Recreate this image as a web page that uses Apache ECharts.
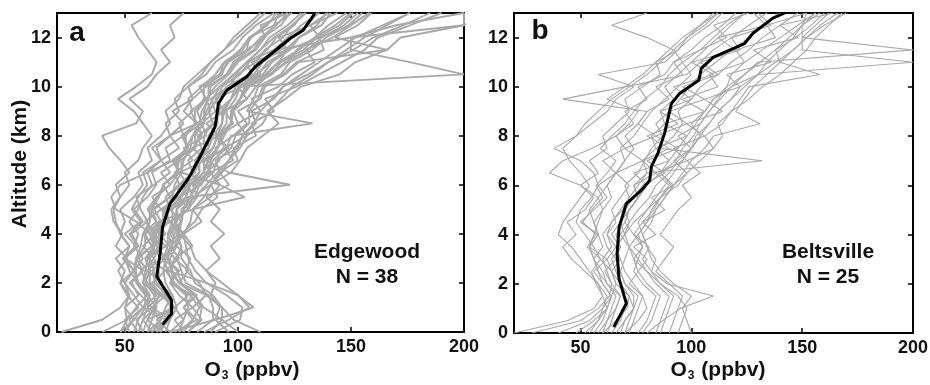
<!DOCTYPE html>
<html>
<head>
<meta charset="utf-8">
<script src="https://cdn.jsdelivr.net/npm/echarts@6/dist/echarts.min.js"></script>
<style>
  html, body { margin: 0; padding: 0; background: #ffffff; }
  #chart { width: 930px; height: 385px; }
</style>
</head>
<body>
<div id="chart"></div>
<script>
// Altitude levels (km) shared by every individual ozonesonde profile
const ALTITUDE_KM = [0, 0.5, 1, 1.5, 2, 2.5, 3, 3.5, 4, 4.5, 5, 5.5, 6, 6.5, 7, 7.5, 8, 8.5, 9, 9.5, 10, 10.5, 11, 11.5, 12, 12.5, 13];

// Edgewood: individual O3 profiles (ppbv), one row per sounding
const EDGEWOOD_O3 = [
  [22,40,48,52,50,47,51,46,49,45,44,48,46,52,48,43,40,55,58,52,60,64,70,66,72,70,76],
  [110,98,93,86,83,77,79,73,75,81,84,91,88,97,101,104,111,118,113,121,128,145,152,166,172,200,210],
  [58,55,62,57,52,58,50,56,53,60,57,55,63,70,66,74,70,82,76,80,86,92,96,104,112,110,122],
  [78,84,80,86,74,78,72,80,76,84,80,88,92,88,98,94,104,100,110,106,118,124,134,130,142,150,158],
  [52,50,56,51,48,54,49,55,50,57,53,56,60,58,66,62,70,76,71,80,78,86,90,98,102,108,116],
  [72,82,76,80,70,74,66,73,70,75,70,80,78,88,84,96,90,98,94,104,100,112,118,122,136,132,144],
  [66,60,72,66,62,68,60,68,63,70,66,74,78,74,86,80,92,86,94,90,102,110,106,122,118,132,140],
  [96,90,92,88,90,86,92,88,94,88,92,86,96,92,100,98,108,106,116,112,126,136,146,156,162,176,190],
  [60,66,58,64,60,57,63,58,64,59,66,62,70,74,72,80,84,82,88,86,92,98,104,110,114,122,128],
  [76,72,80,74,70,74,68,72,76,70,78,74,84,86,92,90,98,104,100,110,112,120,126,138,136,150,158],
  [50,54,58,61,56,52,50,52,48,46,45,48,52,50,56,58,62,58,54,47,55,62,64,60,56,53,62],
  [62,68,60,66,58,60,56,62,58,64,60,64,70,66,74,78,76,84,82,86,90,96,100,108,112,116,124],
  [85,96,105,100,93,86,81,79,74,72,73,75,79,83,82,89,91,93,94,97,101,108,115,121,127,137,141],
  [70,76,72,78,72,68,74,70,76,72,78,82,80,88,86,94,92,100,98,104,108,114,122,126,134,140,148],
  [56,52,58,54,50,54,50,56,52,58,54,60,64,62,70,68,76,74,80,78,84,90,94,102,106,112,120],
  [74,80,76,82,74,70,72,68,74,70,78,80,88,92,90,100,102,108,106,116,120,128,136,144,152,164,176],
  [40,51,55,60,56,54,55,57,58,61,62,65,67,73,74,77,80,85,86,89,92,99,104,110,116,124,130],
  [90,101,102,95,86,81,78,77,76,79,80,85,88,93,96,101,104,111,114,119,124,133,140,148,156,166,176],
  [64,70,62,68,66,60,66,62,68,64,62,70,74,72,80,76,86,84,90,88,96,100,108,112,120,124,130],
  [62,66,68,71,68,67,68,71,72,75,76,79,82,87,88,91,92,97,98,101,104,113,118,127,134,143,150],
  [48,54,50,52,48,50,46,52,48,50,48,54,58,56,62,60,66,70,68,74,76,82,88,94,98,104,110],
  [78,83,84,81,74,71,70,73,74,75,76,81,86,91,96,99,102,107,110,115,120,131,140,151,160,173,185],
  [70,64,72,68,64,62,68,64,62,66,70,68,74,80,78,84,82,90,92,90,98,106,104,116,122,128,136],
  [56,58,60,61,58,59,60,63,64,67,68,71,72,75,76,79,80,83,84,87,88,95,98,105,110,117,122],
  [100,93,85,81,75,73,69,70,65,67,67,73,74,81,83,87,89,93,93,97,99,107,111,119,123,131,135],
  [64,68,70,69,63,63,61,65,63,67,68,78,123,96,86,91,94,97,97,101,105,115,121,131,137,147,153],
  [48,51,50,56,53,58,55,62,59,66,63,70,67,74,71,78,75,82,79,86,83,92,94,104,105,116,118],
  [74,76,78,77,71,71,69,71,69,73,73,79,81,87,89,95,97,133,104,107,109,119,123,133,139,149,155],
  [60,62,64,63,59,61,61,63,61,55,46,44,48,60,72,81,81,85,85,87,87,95,99,107,111,119,123],
  [82,89,89,87,77,75,73,75,71,73,73,77,79,85,87,91,93,97,97,101,103,111,115,123,127,135,139],
  [68,70,73,71,65,65,63,65,65,69,69,75,77,83,83,87,87,91,91,97,101,200,176,150,150,170,200],
  [66,68,71,67,61,61,61,63,63,67,67,73,75,81,81,85,85,89,87,91,95,105,109,117,150,200,200],
  [58,60,63,65,61,61,59,63,61,65,80,103,92,75,75,81,83,89,87,91,93,101,105,113,117,125,129],
  [76,80,83,79,71,69,67,69,69,71,71,77,79,85,85,89,91,97,97,101,105,115,119,129,135,145,151],
  [62,58,64,60,56,54,58,54,56,52,56,58,62,60,66,64,70,68,74,72,78,84,88,94,100,106,112],
  [70,90,107,100,86,69,67,71,69,73,73,77,79,85,85,89,91,95,95,99,101,109,113,123,127,137,141],
  [54,56,59,59,55,55,55,59,59,61,61,65,67,73,73,77,77,81,81,85,85,93,95,101,105,113,117],
  [88,93,93,89,81,79,75,75,73,75,75,81,83,89,91,97,99,105,105,109,111,121,127,166,143,153,159]
];

// Edgewood mean profile
const EDGEWOOD_MEAN_ALT = [0.3, 0.75, 1.29, 2.27, 3.2, 4.28, 5.23, 5.78, 6.25, 7.13, 7.95, 8.36, 9.31, 9.85, 10.4, 10.8, 11.41, 11.96, 12.3, 12.98];
const EDGEWOOD_MEAN_O3 = [66.7, 70.7, 70.7, 64.1, 65.6, 66.7, 70, 74.4, 78.1, 83.2, 87.7, 89.9, 91.4, 95.1, 103.9, 107.6, 115.7, 123.1, 128.9, 134];

// Beltsville: individual O3 profiles (ppbv)
const BELTSVILLE_O3 = [
  [20,44,56,60,57,55,59,53,57,51,55,60,57,62,66,59,64,70,74,79,86,90,96,104,110,116,124],
  [28,50,58,63,64,61,66,62,60,64,69,72,70,76,79,82,87,84,90,95,99,104,111,118,126,132,140],
  [80,87,95,110,89,82,78,81,74,78,83,86,91,86,93,96,101,104,108,113,118,124,131,138,147,154,160],
  [60,66,71,72,68,64,59,56,52,48,50,55,58,56,50,38,48,52,58,64,72,80,86,92,98,104,110],
  [70,76,80,78,74,70,68,66,70,72,76,81,84,90,94,100,104,100,106,110,118,130,200,150,150,156,162],
  [56,60,62,60,58,54,50,46,40,42,46,50,54,50,45,42,48,55,62,66,74,58,88,94,100,108,114],
  [90,92,94,96,90,84,88,92,86,90,94,100,96,104,98,110,106,114,118,126,132,140,146,152,156,162,168],
  [66,70,74,72,68,66,64,68,66,70,72,76,74,84,78,90,80,94,86,100,92,110,100,120,112,134,128],
  [52,58,62,64,60,56,62,54,58,50,56,62,58,66,60,70,66,74,70,80,76,88,92,100,106,114,120],
  [76,80,82,84,78,74,76,72,70,74,80,86,94,98,92,100,104,108,112,118,122,130,138,146,152,160,170],
  [62,64,66,68,64,62,60,64,62,66,64,68,72,66,78,70,84,76,80,90,84,96,92,104,116,110,126],
  [84,86,88,90,84,80,76,78,74,70,72,76,80,86,90,94,98,102,106,110,116,124,130,200,150,150,152],
  [40,54,60,64,66,64,62,66,70,68,72,76,74,80,78,84,82,88,86,92,88,94,100,106,112,118,124],
  [72,74,76,78,72,76,80,74,84,78,88,82,92,86,96,100,94,104,108,112,116,118,124,132,140,148,156],
  [58,62,66,68,62,60,56,54,58,56,60,64,62,66,70,68,74,78,82,88,94,100,96,92,80,64,80],
  [94,96,98,94,86,80,74,72,76,80,84,88,92,96,100,106,110,131,120,124,128,134,140,146,152,158,166],
  [64,68,70,72,66,64,68,66,62,64,68,72,76,80,132,86,92,96,94,100,104,112,118,126,132,140,148],
  [48,56,62,64,60,58,56,60,58,56,54,58,62,66,70,74,70,76,80,42,70,98,104,110,118,126,134],
  [86,88,90,92,86,82,84,80,78,82,84,88,92,98,104,110,114,112,118,122,126,158,140,138,144,150,158],
  [68,70,74,76,70,68,70,72,68,72,70,74,78,88,80,94,84,98,90,106,96,112,104,122,118,136,130],
  [60,62,64,66,62,58,56,54,56,58,60,58,50,36,42,55,66,72,76,62,70,78,84,90,96,104,112],
  [78,82,84,86,80,76,74,78,76,80,82,86,90,84,98,92,106,98,114,106,122,116,136,128,148,140,164],
  [54,58,60,62,58,52,46,42,48,44,52,56,50,58,54,62,60,66,72,70,78,86,84,94,98,106,112],
  [100,98,96,100,92,86,82,80,78,76,80,84,88,92,96,100,102,108,112,118,124,130,134,140,146,150,156],
  [70,72,74,74,70,68,66,68,64,68,72,76,80,74,90,84,98,88,106,96,112,108,124,120,138,134,152]
];

// Beltsville mean profile
const BELTSVILLE_MEAN_ALT = [0.24, 1.2, 2.2, 3.2, 4.3, 5.26, 5.8, 6.2, 6.77, 7.3, 8.1, 9.32, 9.73, 10.27, 10.75, 11.2, 11.76, 12.18, 12.79, 13];
const BELTSVILLE_MEAN_O3 = [65, 70.7, 67.4, 66.5, 67.4, 70.7, 77.5, 81.2, 82, 84.9, 87.9, 91, 94.7, 103.4, 104.5, 109.8, 124, 127.8, 136.8, 142.1];

// Axis ticks
const X_TICKS = [50, 100, 150, 200];
const Y_TICKS = [0, 2, 4, 6, 8, 10, 12];
const X_RANGE = [20, 200];
const Y_RANGE = [0, 13];

const FONT = '"Liberation Sans", Arial, Helvetica, sans-serif';

function xAxes(gridIndex) {
  const base = {
    type: 'value', gridIndex: gridIndex, min: X_RANGE[0], max: X_RANGE[1],
    splitLine: { show: false },
    axisLine: { show: true, onZero: false, lineStyle: { color: '#000', width: 2 } },
    axisTick: { show: true, inside: true, length: 5, customValues: X_TICKS, lineStyle: { color: '#000', width: 1.5 } }
  };
  return [
    Object.assign({}, base, {
      position: 'bottom',
      axisLabel: { show: true, customValues: X_TICKS, margin: 6, color: '#111', fontFamily: FONT, fontWeight: 'bold', fontSize: 18 }
    }),
    Object.assign({}, base, { position: 'top', axisLabel: { show: false } })
  ];
}

function yAxes(gridIndex) {
  const base = {
    type: 'value', gridIndex: gridIndex, min: Y_RANGE[0], max: Y_RANGE[1],
    splitLine: { show: false },
    axisLine: { show: true, onZero: false, lineStyle: { color: '#000', width: 2 } },
    axisTick: { show: true, inside: true, length: 5, customValues: Y_TICKS, lineStyle: { color: '#000', width: 1.5 } }
  };
  return [
    Object.assign({}, base, {
      position: 'left',
      axisLabel: { show: true, customValues: Y_TICKS, margin: 6, color: '#111', fontFamily: FONT, fontWeight: 'bold', fontSize: 18 }
    }),
    Object.assign({}, base, { position: 'right', axisLabel: { show: false } })
  ];
}

function profileSeries(values, alts, axisBase, style, z) {
  return {
    type: 'line',
    xAxisIndex: axisBase, yAxisIndex: axisBase,
    data: values.map((v, i) => [v, alts[i]]),
    showSymbol: false, symbol: 'none',
    lineStyle: style,
    silent: true, z: z,
    animation: false
  };
}

const series = [];
EDGEWOOD_O3.forEach(p => series.push(profileSeries(p, ALTITUDE_KM, 0, { color: '#a9a9a9', width: 1.9 }, 1)));
series.push(profileSeries(EDGEWOOD_MEAN_O3, EDGEWOOD_MEAN_ALT, 0, { color: '#000', width: 3 }, 3));
BELTSVILLE_O3.forEach(p => series.push(profileSeries(p, ALTITUDE_KM, 2, { color: '#a8a8a8', width: 1.1 }, 1)));
series.push(profileSeries(BELTSVILLE_MEAN_O3, BELTSVILLE_MEAN_ALT, 2, { color: '#000', width: 3 }, 3));

const xa = xAxes(0), xb = xAxes(1), ya = yAxes(0), yb = yAxes(1);

const boldText = (text, x, y, size, extra) => Object.assign({
  type: 'text', x: x, y: y, silent: true, z: 10,
  style: { text: text, fontFamily: FONT, fontWeight: 'bold', fontSize: size, fill: '#111', align: 'center', verticalAlign: 'middle' }
}, extra || {});

const o3Rich = {
  b: { fontFamily: FONT, fontWeight: 'bold', fontSize: 21, fill: '#111' },
  s: { fontFamily: FONT, fontWeight: 'bold', fontSize: 12, fill: '#111', verticalAlign: 'bottom', padding: [12, 1, 0, 1] }
};
const o3Title = (x) => ({
  type: 'text', x: x, y: 370, silent: true, z: 10,
  style: { text: '{b|O}{s|3}{b| (ppbv)}', rich: o3Rich, align: 'center', verticalAlign: 'middle' }
});

const option = {
  backgroundColor: '#ffffff',
  animation: false,
  grid: [
    { left: 57, right: 466, top: 13, bottom: 53, outerBoundsMode: 'none' },
    { left: 514, right: 17, top: 13, bottom: 52, outerBoundsMode: 'none' }
  ],
  xAxis: [xa[0], xa[1], xb[0], xb[1]],
  yAxis: [ya[0], ya[1], yb[0], yb[1]],
  series: series,
  graphic: [
    boldText('a', 77, 33, 28),
    boldText('b', 540, 31, 28),
    boldText('Edgewood', 367, 252, 21),
    boldText('N = 38', 367, 277, 21),
    boldText('Beltsville', 828, 252, 21),
    boldText('N = 25', 828, 277, 21),
    boldText('Altitude (km)', 20, 164, 21, { rotation: Math.PI / 2 }),
    o3Title(252),
    o3Title(718)
  ]
};

const chart = echarts.init(document.getElementById('chart'), null, { renderer: 'canvas' });
chart.setOption(option);
</script>
</body>
</html>
